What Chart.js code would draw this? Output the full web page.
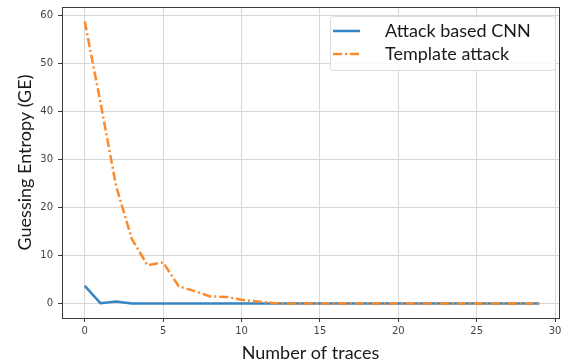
<!DOCTYPE html>
<html>
<head>
<meta charset="utf-8">
<script src="https://cdn.jsdelivr.net/npm/chart.js@4/dist/chart.umd.min.js"></script>
<style>
  html, body { margin: 0; padding: 0; background: #fff; }
  #wrap { width: 562px; height: 364px; }
</style>
</head>
<body>
<div id="wrap"><canvas id="myChart" width="562" height="364"></canvas></div>
<script>
// DATA
const traces = [0, 1, 2, 3, 4, 5, 6, 7, 8, 9, 10, 11, 12, 13, 14, 15, 16, 17, 18, 19, 20, 21, 22, 23, 24, 25, 26, 27, 28, 29];
const cnnGE = [3.7, 0.1, 0.45, 0, 0, 0, 0, 0, 0, 0, 0, 0, 0, 0, 0, 0, 0, 0, 0, 0, 0, 0, 0, 0, 0, 0, 0, 0, 0, 0];
const templateGE = [58.8, 42, 24.5, 13.5, 8.0, 8.6, 3.6, 2.6, 1.5, 1.4, 0.8, 0.45, 0.15, 0, 0, 0, 0, 0, 0, 0, 0, 0, 0, 0, 0, 0, 0, 0, 0, 0];
const xTicks = [0, 5, 10, 15, 20, 25, 30];
const yTicks = [0, 10, 20, 30, 40, 50, 60];
const seriesNames = ["Attack based CNN", "Template attack"];

const titleFont = "Lato, 'Open Sans', sans-serif";
const tickFont = "'DejaVu Sans', sans-serif";

function toPoints(xs, ys) {
  return xs.map((x, i) => ({ x: x, y: ys[i] }));
}

//FRAME + LEGEND
const framePlugin = {
  id: "frame",
  beforeDatasetsDraw(chart) {
    const { ctx, chartArea: a } = chart;
    ctx.save();
    ctx.strokeStyle = "#3a3a3a";
    ctx.lineWidth = 1;
    ctx.strokeRect(Math.round(a.left) + 0.5, Math.round(a.top) + 0.5, Math.round(a.right - a.left), Math.round(a.bottom - a.top));
    ctx.restore();
  },
  afterDatasetsDraw(chart) {
    const ctx = chart.ctx;
    const box = { x: 330, y: 16, w: 225, h: 54 };
    ctx.save();
    ctx.fillStyle = "rgba(255,255,255,0.85)";
    ctx.strokeStyle = "#dcdcdc";
    ctx.lineWidth = 1;
    ctx.beginPath();
    ctx.roundRect(box.x + 0.5, box.y + 0.5, box.w, box.h, 3);
    ctx.fill();
    ctx.stroke();

    chart.data.datasets.forEach((ds, i) => {
      const yy = 31 + i * 23;
      ctx.strokeStyle = ds.borderColor;
      ctx.lineWidth = ds.borderWidth;
      ctx.setLineDash(ds.borderDash || []);
      ctx.beginPath();
      ctx.moveTo(333, yy);
      ctx.lineTo(360, yy);
      ctx.stroke();
      ctx.setLineDash([]);
      ctx.fillStyle = "#1a1a1a";
      ctx.font = "18px " + titleFont;
      ctx.textBaseline = "middle";
      ctx.textAlign = "left";
      ctx.fillText(ds.label, 385, yy);
    });
    ctx.restore();
  }
};

const ctx = document.getElementById("myChart").getContext("2d");

new Chart(ctx, {
  type: "line",
  data: {
    datasets: [
      {
        label: seriesNames[0],
        data: toPoints(traces, cnnGE),
        borderColor: "#3584c4",
        borderWidth: 2.5,
        pointRadius: 0,
        tension: 0,
        order: 1
      },
      {
        label: seriesNames[1],
        data: toPoints(traces, templateGE),
        borderColor: "#fb8a2c",
        borderWidth: 2.5,
        borderDash: [9, 3, 2, 3],
        pointRadius: 0,
        tension: 0,
        order: 0
      }
    ]
  },
  options: {
    responsive: false,
    animation: false,
    layout: { padding: { top: 7, right: 3, left: 0, bottom: 0 } },
    plugins: {
      legend: { display: false },
      tooltip: { enabled: false }
    },
    scales: {
      x: {
        type: "linear",
        min: -1.45,
        max: 30.25,
        afterFit: s => { s.height = 46; s.paddingLeft = 0; s.paddingRight = 0; },
        afterBuildTicks: s => { s.ticks = xTicks.map(v => ({ value: v })); },
        ticks: {
          includeBounds: false,
          color: "#444",
          padding: 3,
          font: { family: tickFont, size: 10 }
        },
        grid: { color: "#d8d8d8", tickColor: "#3a3a3a", tickLength: 4, lineWidth: 1 },
        border: { display: false },
        title: {
          display: true,
          text: "Number of traces",
          color: "#1a1a1a",
          padding: { top: 0, bottom: 0 },
          font: { family: titleFont, size: 18 }
        }
      },
      y: {
        type: "linear",
        min: -3.0,
        max: 61.8,
        afterFit: s => { s.width = 62; s.paddingTop = 0; s.paddingBottom = 0; },
        afterBuildTicks: s => { s.ticks = yTicks.map(v => ({ value: v })); },
        ticks: {
          includeBounds: false,
          color: "#444",
          padding: 5,
          font: { family: tickFont, size: 10 }
        },
        grid: { color: "#d8d8d8", tickColor: "#3a3a3a", tickLength: 4, lineWidth: 1 },
        border: { display: false },
        title: {
          display: true,
          text: "Guessing Entropy (GE)",
          color: "#1a1a1a",
          padding: { top: 14, bottom: 0 },
          font: { family: titleFont, size: 18 }
        }
      }
    }
  },
  plugins: [framePlugin]
});
</script>
</body>
</html>
